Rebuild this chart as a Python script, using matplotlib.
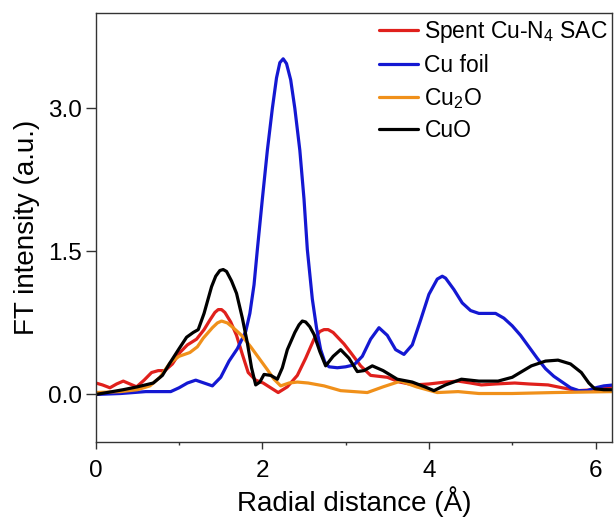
import matplotlib
matplotlib.use("Agg")
import matplotlib.pyplot as plt
from matplotlib.ticker import MultipleLocator

plt.rcParams['font.family'] = ['Liberation Sans', 'DejaVu Sans']
plt.rcParams['mathtext.fontset'] = 'custom'
plt.rcParams['mathtext.rm'] = 'Liberation Sans'
plt.rcParams['mathtext.it'] = 'Liberation Sans'

labels = ["Spent Cu-N$_4$ SAC", "Cu foil", "Cu$_2$O", "CuO"]
colors = ["#e0201c", "#1418d2", "#f0901a", "#000000"]

x_sac = [0, 0.08, 0.17, 0.25, 0.33, 0.41, 0.49, 0.58, 0.67, 0.75, 0.83, 0.92, 1.01, 1.1, 1.21, 1.3,
         1.37, 1.43, 1.47, 1.51, 1.55, 1.62, 1.69, 1.76, 1.83, 1.92, 2.01, 2.1, 2.19, 2.3, 2.42, 2.52, 2.62,
         2.69, 2.74, 2.79, 2.85, 2.98, 3.06, 3.18, 3.3, 3.5, 3.65, 3.82, 4.0, 4.2, 4.35, 4.5, 4.63, 4.8,
         5.03, 5.2, 5.43, 5.6, 5.79, 6.0, 6.22]
y_sac = [0.12, 0.10, 0.07, 0.11, 0.14, 0.11, 0.08, 0.15, 0.23, 0.25, 0.25, 0.32, 0.44, 0.52, 0.58, 0.68,
         0.78, 0.86, 0.89, 0.89, 0.86, 0.76, 0.62, 0.42, 0.23, 0.15, 0.12, 0.07, 0.02, 0.08, 0.20, 0.38, 0.58,
         0.66, 0.68, 0.68, 0.65, 0.53, 0.44, 0.30, 0.20, 0.18, 0.13, 0.10, 0.11, 0.13, 0.14, 0.12, 0.10, 0.11,
         0.12, 0.11, 0.10, 0.07, 0.04, 0.05, 0.09]

x_foil = [0, 0.3, 0.6, 0.8, 0.9, 1.0, 1.1, 1.2, 1.3, 1.4, 1.5, 1.6, 1.7, 1.8, 1.85, 1.9, 1.94, 2.0,
          2.06, 2.12, 2.17, 2.21, 2.25, 2.29, 2.34, 2.39, 2.45, 2.5, 2.54, 2.6, 2.65, 2.7, 2.75, 2.8,
          2.9, 3.0, 3.1, 3.2, 3.3, 3.4, 3.5, 3.6,
          3.7, 3.8, 3.9, 4.0, 4.1, 4.16, 4.2, 4.3, 4.4, 4.5, 4.6, 4.7, 4.8, 4.9, 5.0, 5.1, 5.2, 5.3,
          5.4, 5.5, 5.6, 5.7, 5.8, 5.9, 6.0, 6.1, 6.22]
y_foil = [0.0, 0.01, 0.03, 0.03, 0.03, 0.07, 0.12, 0.15, 0.12, 0.09, 0.18, 0.35, 0.48, 0.66, 0.85, 1.15, 1.52, 2.05,
          2.56, 3.0, 3.32, 3.48, 3.52, 3.47, 3.30, 3.0, 2.56, 2.05, 1.52, 1.0, 0.70, 0.47, 0.34, 0.29,
          0.28, 0.29, 0.31, 0.40, 0.58, 0.70, 0.62, 0.47,
          0.42, 0.52, 0.78, 1.05, 1.21, 1.24, 1.22, 1.10, 0.96, 0.88, 0.85, 0.85, 0.85, 0.80, 0.72, 0.62, 0.50, 0.38,
          0.27, 0.19, 0.13, 0.07, 0.04, 0.04, 0.07, 0.09, 0.10]

x_cu2o = [0, 0.3, 0.5, 0.65, 0.77, 0.89, 1.0, 1.13, 1.22, 1.29, 1.4, 1.46, 1.51, 1.58, 1.65, 1.75, 1.86,
          1.96, 2.06, 2.14, 2.22, 2.32, 2.42, 2.55, 2.74, 2.94, 3.1, 3.26, 3.45, 3.66, 3.85, 4.1, 4.35,
          4.6, 5.0, 5.5, 6.22]
y_cu2o = [0.02, 0.03, 0.05, 0.09, 0.18, 0.33, 0.40, 0.44, 0.50, 0.59, 0.70, 0.75, 0.77, 0.75, 0.70, 0.62, 0.50,
          0.38, 0.26, 0.16, 0.09, 0.12, 0.13, 0.12, 0.09, 0.04, 0.03, 0.02, 0.08, 0.14, 0.08, 0.02, 0.03,
          0.01, 0.01, 0.02, 0.03]

x_cuo = [0, 0.2, 0.33, 0.5, 0.69, 0.8, 0.89, 1.0, 1.09, 1.17, 1.23, 1.3, 1.39, 1.44, 1.49, 1.53, 1.57, 1.63,
         1.69, 1.76, 1.82, 1.87, 1.92, 1.97, 2.02, 2.1, 2.18, 2.24, 2.3, 2.39, 2.44, 2.48, 2.52, 2.57, 2.62,
         2.69, 2.76, 2.85, 2.94, 3.04, 3.14, 3.22, 3.32, 3.45, 3.62, 3.8, 3.95, 4.06, 4.2, 4.39, 4.6, 4.83,
         5.0, 5.23, 5.4, 5.55, 5.7, 5.83, 5.92, 5.99, 6.1, 6.22]
y_cuo = [0.0, 0.03, 0.05, 0.08, 0.12, 0.20, 0.33, 0.48, 0.60, 0.65, 0.68, 0.85, 1.13, 1.24, 1.30, 1.31, 1.29, 1.19,
         1.06, 0.80, 0.54, 0.28, 0.10, 0.13, 0.21, 0.20, 0.16, 0.28, 0.47, 0.65, 0.73, 0.77, 0.76, 0.71, 0.63,
         0.45, 0.30, 0.40, 0.47, 0.38, 0.24, 0.25, 0.30, 0.25, 0.16, 0.13, 0.08, 0.04, 0.10, 0.16, 0.14, 0.14,
         0.18, 0.30, 0.35, 0.36, 0.32, 0.23, 0.12, 0.06, 0.05, 0.05]

xticks = [0, 2, 4, 6]
yticks = [0.0, 1.5, 3.0]
ytick_labels = ["0.0", "1.5", "3.0"]

fig = plt.figure(figsize=(6.14, 5.22), dpi=100)
ax = fig.add_axes([0.156, 0.153, 0.841, 0.822])

series = [(x_sac, y_sac), (x_foil, y_foil), (x_cu2o, y_cu2o), (x_cuo, y_cuo)]
for (xs, ys), lab, c in zip(series, labels, colors):
    ax.plot(xs, ys, color=c, lw=2.3, label=lab, solid_joinstyle='round', solid_capstyle='round')

ax.set_xlim(0, 6.2)
ax.set_ylim(-0.5, 4.0)
ax.set_xticks(xticks)
ax.xaxis.set_minor_locator(MultipleLocator(1))
ax.set_yticks(yticks)
ax.set_yticklabels(ytick_labels)
ax.tick_params(axis='both', which='major', direction='out', width=1, labelsize=17.5,
               colors='#333333', labelcolor='black')
ax.tick_params(axis='x', which='major', length=5, pad=8)
ax.tick_params(axis='y', which='major', length=7, pad=3)
ax.tick_params(axis='x', which='minor', direction='out', length=2.5, width=1, colors='#333333')
for s in ax.spines.values():
    s.set_color('#333333')
    s.set_linewidth(1)

ax.set_xlabel("Radial distance (Å)", fontsize=20, labelpad=3)
ax.set_ylabel("FT intensity (a.u.)", fontsize=20, labelpad=6)

leg = ax.legend(loc='upper right', frameon=False, fontsize=16.5, handlelength=1.7,
                handletextpad=0.3, labelspacing=0.38, borderaxespad=0.0,
                bbox_to_anchor=(1.01, 1.007))

fig.savefig("out.png", dpi=100)
